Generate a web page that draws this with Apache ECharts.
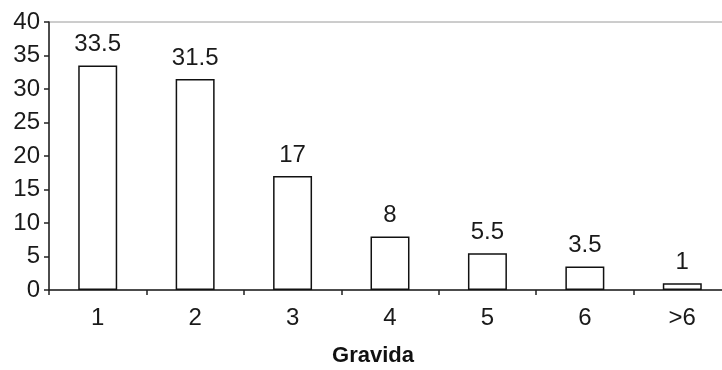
<!DOCTYPE html>
<html>
<head>
<meta charset="utf-8">
<script src="https://cdn.jsdelivr.net/npm/echarts@6/dist/echarts.min.js"></script>
<style>
html,body{margin:0;padding:0;background:#fff;overflow:hidden;}
#chart{width:722px;height:370px;}
</style>
</head>
<body>
<div id="chart"></div>
<script>
var categories = ['1', '2', '3', '4', '5', '6', '>6'];
var values = [33.5, 31.5, 17, 8, 5.5, 3.5, 1];
var yTicks = { min: 0, max: 40, interval: 5 };
var xTitle = 'Gravida';

var chart = echarts.init(document.getElementById('chart'), null, { renderer: 'canvas' });
var font = 'Liberation Sans, Arial, sans-serif';
chart.setOption({
  animation: false,
  backgroundColor: '#ffffff',
  grid: {
    left: 49, top: 22, bottom: 80, right: -9,
    outerBoundsMode: 'none',
    containLabel: false,
    show: true, borderColor: '#9a9a9a', borderWidth: 1, backgroundColor: 'transparent'
  },
  xAxis: {
    type: 'category',
    data: categories,
    boundaryGap: true,
    axisLine: { show: true, lineStyle: { color: '#222', width: 1.5 } },
    axisTick: { show: true, inside: false, length: 5, alignWithLabel: false, lineStyle: { color: '#222', width: 1.5 } },
    axisLabel: { margin: 16, fontFamily: font, fontSize: 24, color: '#1a1a1a' },
    name: xTitle,
    nameLocation: 'middle',
    nameGap: 55,
    nameTextStyle: { fontFamily: font, fontSize: 22, fontWeight: 'bold', color: '#111', padding: [0, 34, 0, 0] },
    splitLine: { show: false }
  },
  yAxis: {
    type: 'value',
    min: yTicks.min, max: yTicks.max, interval: yTicks.interval,
    axisLine: { show: true, lineStyle: { color: '#222', width: 1.5 } },
    axisTick: { show: true, inside: false, length: 5, lineStyle: { color: '#222', width: 1.5 } },
    axisLabel: { margin: 9, fontFamily: font, fontSize: 24, color: '#1a1a1a' },
    splitLine: { show: false }
  },
  series: [{
    type: 'bar',
    data: values,
    barWidth: '40%',
    itemStyle: { color: '#ffffff', borderColor: '#111', borderWidth: 1.5 },
    label: {
      show: true, position: 'top', distance: 9,
      fontFamily: font, fontSize: 24, color: '#1a1a1a'
    }
  }]
});
</script>
</body>
</html>
